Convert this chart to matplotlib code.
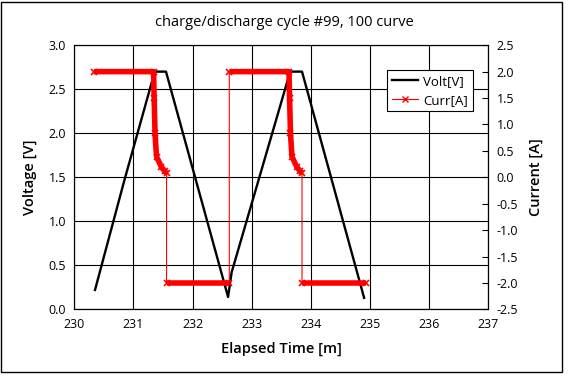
import numpy as np
import matplotlib.pyplot as plt
from matplotlib.lines import Line2D
from matplotlib.patches import Rectangle

plt.rcParams['font.family'] = ['Open Sans', 'DejaVu Sans']

# voltage curve (elapsed minutes, volts)
volt_t = [230.35, 230.84, 231.36, 231.55, 232.60, 232.66, 233.65,
          233.85, 234.90]
volt_v = [0.22, 1.45, 2.70, 2.70, 0.14, 0.42, 2.70,
          2.70, 0.13]

# current, one list per phase (elapsed minutes, amps)
chg1_t = [230.33, 231.34, 231.35, 231.365, 231.39, 231.47, 231.53, 231.56]
chg1_i = [2.0, 2.0, 1.5, 0.83, 0.39, 0.20, 0.11, 0.08]
dis1_t = [231.56, 232.62]
dis1_i = [-2.0, -2.0]
chg2_t = [232.62, 233.63, 233.64, 233.655, 233.68, 233.76, 233.82, 233.85]
chg2_i = [2.0, 2.0, 1.5, 0.83, 0.39, 0.20, 0.11, 0.08]
dis2_t = [233.85, 234.93]
dis2_i = [-2.0, -2.0]

x_ticks = [230, 231, 232, 233, 234, 235, 236, 237]
v_ticks = [0.0, 0.5, 1.0, 1.5, 2.0, 2.5, 3.0]
i_ticks = [-2.5, -2.0, -1.5, -1.0, -0.5, 0.0, 0.5, 1.0, 1.5, 2.0, 2.5]

fig = plt.figure(figsize=(5.69, 3.80), dpi=100)
fig.patches.append(Rectangle((0.002, 0.02), 0.985, 0.975, transform=fig.transFigure,
                             fill=False, edgecolor='black', linewidth=1.0))
ax = fig.add_axes([0.1306, 0.186, 0.7276, 0.695])
ax2 = ax.twinx()

ax.set_xlim(230, 237)
ax.set_ylim(0, 3.0)
ax2.set_ylim(-2.5, 2.5)
ax.set_xticks(x_ticks)
ax.set_yticks(v_ticks)
ax.set_yticklabels([f"{v:.1f}" for v in v_ticks])
ax2.set_yticks(i_ticks)
ax2.set_yticklabels([f"{v:.1f}" for v in i_ticks])
ax.grid(True, color='black', linewidth=0.8)
ax.set_axisbelow(True)
ax.tick_params(axis='both', length=0, labelsize=9, pad=6)
ax2.tick_params(axis='y', length=4, direction='in', labelsize=9, pad=6)
for sp in ax.spines.values():
    sp.set_linewidth(0.8)
for sp in ax2.spines.values():
    sp.set_linewidth(0.8)

ax.plot(volt_t, volt_v, color='black', linewidth=1.7, zorder=3)

# thin line joins every sample, thick band where samples are dense
all_t = chg1_t + dis1_t + chg2_t + dis2_t
all_i = chg1_i + dis1_i + chg2_i + dis2_i
ax2.plot(all_t, all_i, color='red', linewidth=0.8, zorder=2)
for t, i in [(chg1_t, chg1_i), (dis1_t, dis1_i), (chg2_t, chg2_i), (dis2_t, dis2_i)]:
    ax2.plot(t, i, color='red', linewidth=4.0, marker='x', markersize=5,
             markeredgewidth=1.2, solid_capstyle='butt', zorder=2)

handles = [Line2D([], [], color='black', linewidth=1.7),
           Line2D([], [], color='red', linewidth=0.8, marker='x', markersize=5)]
leg = ax2.legend(handles, ['Volt[V]', 'Curr[A]'], loc='upper left',
                 bbox_to_anchor=(0.755, 0.905), borderaxespad=0, fontsize=9.5,
                 fancybox=False, framealpha=1, edgecolor='black', handlelength=2.0,
                 borderpad=0.35, labelspacing=0.45, handletextpad=0.4)
leg.get_frame().set_linewidth(0.8)

ax.set_xlabel('Elapsed Time [m]', fontsize=10.5, fontweight='semibold', labelpad=8)
ax.set_ylabel('Voltage [V]', fontsize=10.5, fontweight='semibold', labelpad=8)
ax2.set_ylabel('Current [A]', fontsize=10.5, fontweight='semibold', labelpad=8)
fig.text(0.5, 0.94, 'charge/discharge cycle #99, 100 curve', ha='center', va='center',
         fontsize=10.5)

fig.savefig('out.png', dpi=100)
